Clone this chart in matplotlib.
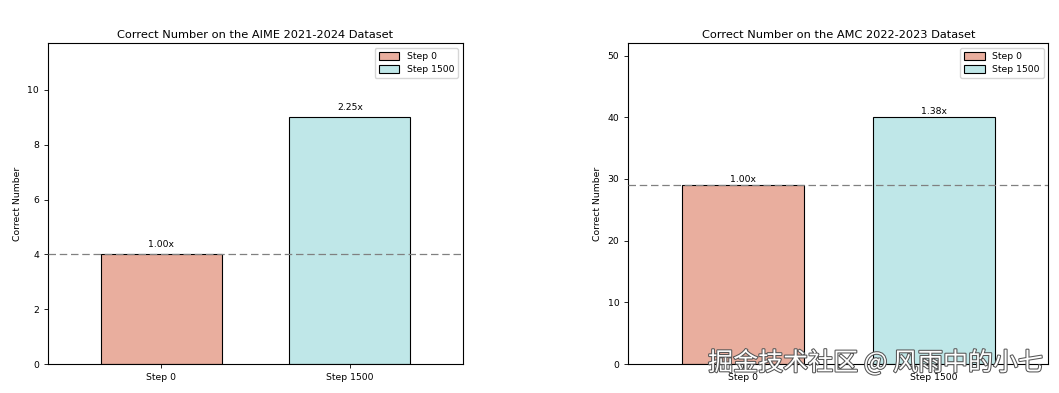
import matplotlib
matplotlib.use("Agg")
import matplotlib.pyplot as plt
import matplotlib.patheffects as pe

categories = ["Step 0", "Step 1500"]
aime_values = [4, 9]
amc_values = [29, 40]
titles = ["Correct Number on the AIME 2021-2024 Dataset",
          "Correct Number on the AMC 2022-2023 Dataset"]
colors = ["#E9AE9E", "#BFE7E8"]
watermark = "掘金技术社区 @ 风雨中的小七"

fig = plt.figure(figsize=(10.59, 3.93), dpi=100)
ax1 = fig.add_axes([48/1059, 1-364/393, (463-48)/1059, (364-43.3)/393])
ax2 = fig.add_axes([628.3/1059, 1-364/393, (1048.3-628.3)/1059, (364-43.3)/393])

fs = 6.7
for ax, vals, title in [(ax1, aime_values, titles[0]), (ax2, amc_values, titles[1])]:
    x = list(range(len(categories)))
    ax.bar(x, vals, width=0.64, color=colors, edgecolor="black",
           linewidth=0.8, label=categories)
    base = vals[0]
    ax.axhline(base, color="gray", linestyle=(0, (6, 3)), linewidth=0.9, zorder=3)
    for xi, v in zip(x, vals):
        ax.text(xi, v + 0.2, f"{v/base:.2f}x", ha="center", va="bottom", fontsize=fs)
    ax.set_xticks(x)
    ax.set_xticklabels(categories, fontsize=fs)
    ax.tick_params(axis="y", labelsize=fs, length=3, width=0.6)
    ax.tick_params(axis="x", length=3, width=0.6)
    ax.set_xlim(-0.6, 1.6)
    ax.set_ylim(0, max(vals) * 1.3)
    ax.set_ylabel("Correct Number", fontsize=fs)
    ax.set_title(title, fontsize=8.2, pad=4)
    ax.legend(loc="upper right", fontsize=fs, handlelength=2.2, handleheight=0.9,
              borderpad=0.45, labelspacing=0.4)
    for s in ax.spines.values():
        s.set_linewidth(0.8)

fig.text(1043/1059, 1-363/393, watermark, ha="right", va="center", fontsize=18,
         color="white", family=["Noto Sans CJK SC", "DejaVu Sans"],
         path_effects=[pe.withStroke(linewidth=1.5, foreground="#555555")])

fig.savefig("out.png", dpi=100)
